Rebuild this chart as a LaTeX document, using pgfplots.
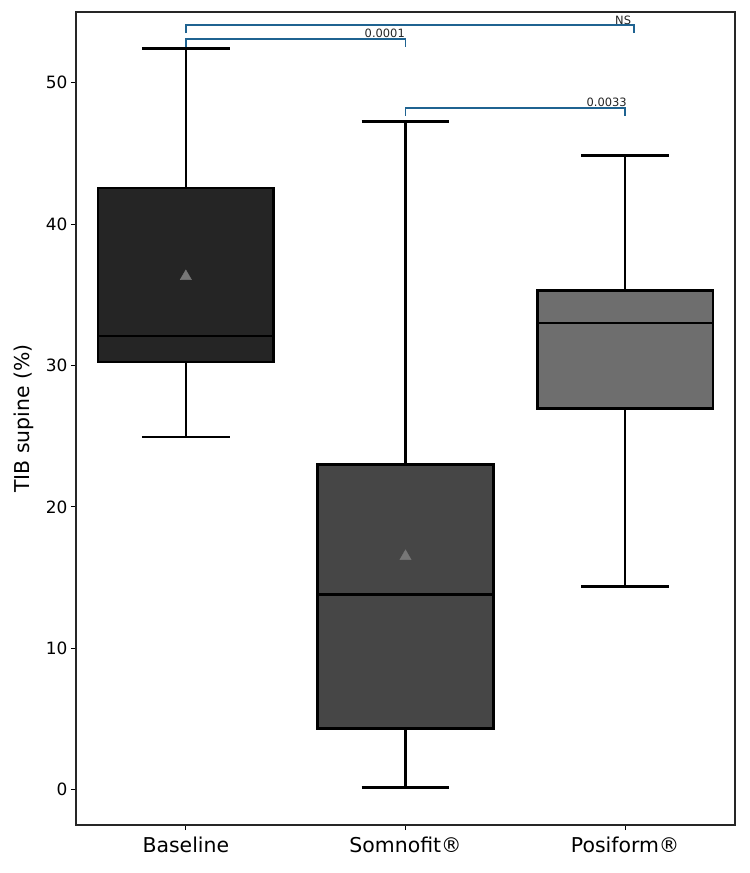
\documentclass[border=0pt]{standalone}
\usepackage{pgfplots}
\pgfplotsset{compat=1.18}
\usepackage{fontspec}
\setmainfont{DejaVu Sans}
\definecolor{c1}{HTML}{252525}
\definecolor{c2}{HTML}{464646}
\definecolor{c3}{HTML}{6E6E6E}
\definecolor{meanc}{HTML}{777777}
\definecolor{br}{HTML}{1F6391}
\begin{document}
\begin{tikzpicture}
\begin{axis}[
  scale only axis, width=659bp, height=813bp,
  xmin=-0.5, xmax=2.5, ymin=-2.5, ymax=55,
  xtick={0,1,2}, xticklabels={Baseline, Somnofit®, Posiform®},
  ytick={0,10,20,30,40,50},
  tick align=outside, tick pos=left,
  major tick length=5bp,
  tick style={black, line width=1bp},
  axis line style={line width=1.3bp, black!85},
  xticklabel style={font=\fontsize{20.5}{24}\selectfont, yshift=-3bp},
  yticklabel style={font=\fontsize{17}{20}\selectfont},
  ylabel={TIB supine (\%)},
  ylabel style={font=\fontsize{20.5}{24}\selectfont, yshift=5bp},
  /pgf/number format/assume math mode=true,
  bx/.style={draw=black, line width=2.5bp, line join=miter},
  wk/.style={black, line width=2.5bp, forget plot},
]
% Baseline
\addplot[wk] coordinates {(0,42.55) (0,52.4)};
\addplot[wk] coordinates {(0,24.95) (0,30.25)};
\addplot[wk] coordinates {(-0.2,52.4) (0.2,52.4)};
\addplot[wk] coordinates {(-0.2,24.95) (0.2,24.95)};
\addplot[bx, fill=c1] coordinates {(-0.4,30.25) (0.4,30.25) (0.4,42.55) (-0.4,42.55)} -- cycle;
\addplot[wk] coordinates {(-0.4,32.1) (0.4,32.1)};
% Somnofit
\addplot[wk] coordinates {(1,22.98) (1,47.25)};
\addplot[wk] coordinates {(1,0.15) (1,4.31)};
\addplot[wk] coordinates {(0.8,47.25) (1.2,47.25)};
\addplot[wk] coordinates {(0.8,0.15) (1.2,0.15)};
\addplot[bx, fill=c2] coordinates {(0.6,4.31) (1.4,4.31) (1.4,22.98) (0.6,22.98)} -- cycle;
\addplot[wk] coordinates {(0.6,13.8) (1.4,13.8)};
% Posiform
\addplot[wk] coordinates {(2,35.3) (2,44.85)};
\addplot[wk] coordinates {(2,14.36) (2,26.94)};
\addplot[wk] coordinates {(1.8,44.85) (2.2,44.85)};
\addplot[wk] coordinates {(1.8,14.36) (2.2,14.36)};
\addplot[bx, fill=c3] coordinates {(1.6,26.94) (2.4,26.94) (2.4,35.3) (1.6,35.3)} -- cycle;
\addplot[wk] coordinates {(1.6,33.0) (2.4,33.0)};
% means
\addplot[only marks, mark=triangle*, mark size=6.5bp, color=meanc] coordinates {(0,36.3) (1,16.5)};
% brackets
\addplot[br, line width=1.4bp] coordinates {(0,53.5) (0,54.07) (2.04,54.07) (2.04,53.5)};
\addplot[br, line width=1.4bp] coordinates {(0,52.5) (0,53.1) (1,53.1) (1,52.5)};
\addplot[br, line width=1.4bp] coordinates {(1,47.65) (1,48.22) (2,48.22) (2,47.65)};
\node[anchor=south east, inner sep=0.5bp, font=\fontsize{11.5}{13}\selectfont, text=c1] at (axis cs:2.03,54.07) {NS};
\node[anchor=south east, inner sep=0.5bp, font=\fontsize{11.5}{13}\selectfont, text=c1] at (axis cs:1,53.1) {0.0001};
\node[anchor=south east, inner sep=0.5bp, font=\fontsize{11.5}{13}\selectfont, text=c1] at (axis cs:2.01,48.22) {0.0033};
\end{axis}
\pgfresetboundingbox
\path ([shift={(-76bp,-48bp)}]current axis.south west) rectangle ([shift={(15bp,12bp)}]current axis.north east);
\end{tikzpicture}
\end{document}
